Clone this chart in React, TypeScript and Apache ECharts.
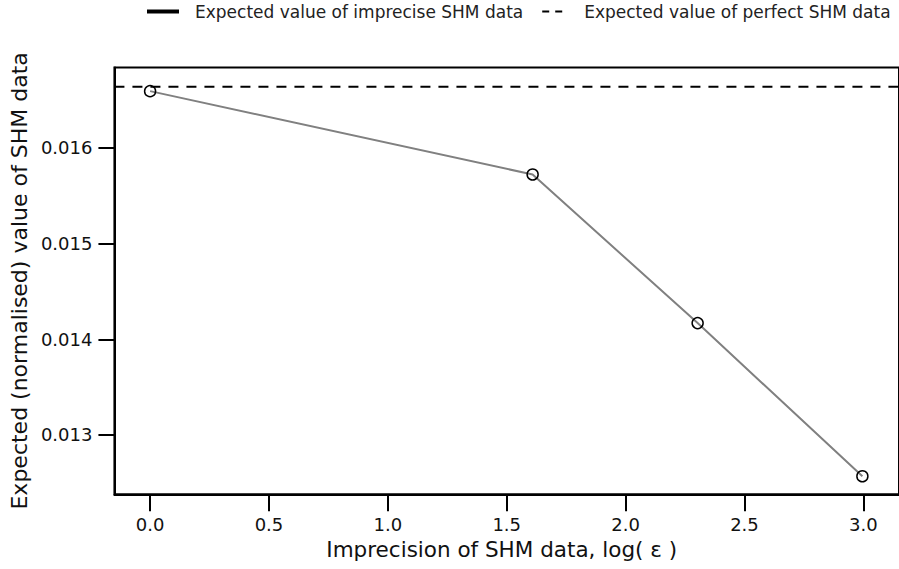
import React, { useEffect, useRef } from "react";
import * as echarts from "echarts";

const xValues = [0, 1.609, 2.303, 2.996];
const impreciseValues = [0.016593, 0.015722, 0.014169, 0.012569];
const perfectValue = 0.01664;
const xTicks = [0, 0.5, 1, 1.5, 2, 2.5, 3];
const yTicks = [0.013, 0.014, 0.015, 0.016];
const seriesNames = ["Expected value of imprecise SHM data", "Expected value of perfect SHM data"];
const xTitle = "Imprecision of SHM data, log( ε )";
const yTitle = "Expected (normalised) value of SHM data";

const X_MIN = -0.15;
const X_MAX = 3.15;
const Y_MIN = 0.01238;
const Y_MAX = 0.01684;

const FONT = "DejaVu Sans";

export default function App() {
  const ref = useRef<HTMLDivElement>(null);
  useEffect(() => {
    if (!ref.current) return;
    const chart = echarts.init(ref.current, undefined, { renderer: "svg" });
    chart.setOption({
      animation: false,
      backgroundColor: "#ffffff",
      legend: {
        left: 142,
        top: -2,
        itemWidth: 30,
        itemHeight: 2,
        itemGap: 19,
        textStyle: { fontFamily: FONT, fontSize: 17, color: "#222", padding: [0, 0, 0, 12] },
        data: [
          { name: seriesNames[0], icon: "path://M0,0H30V2H0Z", itemStyle: { color: "#000" } },
          {
            name: seriesNames[1],
            icon: "path://M0,0H7V2H0Z M13,0H20V2H13Z",
            itemStyle: { color: "#000" },
          },
        ],
      },
      grid: {
        left: 113.5,
        top: 67.5,
        width: 789.7,
        height: 426.8,
        show: true,
        borderColor: "#000",
        borderWidth: 2,
        containLabel: false,
      },
      xAxis: {
        type: "value",
        min: X_MIN,
        max: X_MAX,
        name: xTitle,
        nameLocation: "middle",
        nameGap: 40,
        nameTextStyle: { fontFamily: FONT, fontSize: 21.5, color: "#111", padding: [0, 10, 0, 0] },
        axisLine: { show: true, onZero: false, lineStyle: { color: "#000", width: 2 } },
        axisTick: { show: true, customValues: xTicks, length: 17, lineStyle: { color: "#000", width: 2 } },
        axisLabel: {
          customValues: xTicks,
          margin: 21,
          fontFamily: FONT,
          fontSize: 18,
          color: "#111",
          formatter: (v: number) => v.toFixed(1),
        },
        splitLine: { show: false },
      },
      yAxis: {
        type: "value",
        min: Y_MIN,
        max: Y_MAX,
        name: yTitle,
        nameLocation: "middle",
        nameGap: 82,
        nameTextStyle: { fontFamily: FONT, fontSize: 22, color: "#111" },
        axisLine: { show: true, onZero: false, lineStyle: { color: "#000", width: 2 } },
        axisTick: { show: true, customValues: yTicks, length: 16, lineStyle: { color: "#000", width: 2 } },
        axisLabel: {
          customValues: yTicks,
          margin: 22,
          fontFamily: FONT,
          fontSize: 18,
          color: "#111",
          formatter: (v: number) => v.toFixed(3),
        },
        splitLine: { show: false },
      },
      series: [
        {
          name: seriesNames[0],
          type: "line",
          data: xValues.map((x, i) => [x, impreciseValues[i]]),
          lineStyle: { color: "#808080", width: 2 },
          itemStyle: { color: "rgba(0,0,0,0)", borderColor: "#000", borderWidth: 1.5 },
          symbol: "circle",
          symbolSize: 11,
          z: 3,
        },
        {
          name: seriesNames[1],
          type: "line",
          data: [
            [X_MIN, perfectValue],
            [X_MAX, perfectValue],
          ],
          lineStyle: { color: "#000", width: 2, type: [10, 8] },
          itemStyle: { color: "#000" },
          symbol: "none",
          z: 2,
        },
      ],
    });
    return () => chart.dispose();
  }, []);
  return <div ref={ref} style={{ position: "fixed", left: 0, top: 0, width: 899, height: 569 }} />;
}
